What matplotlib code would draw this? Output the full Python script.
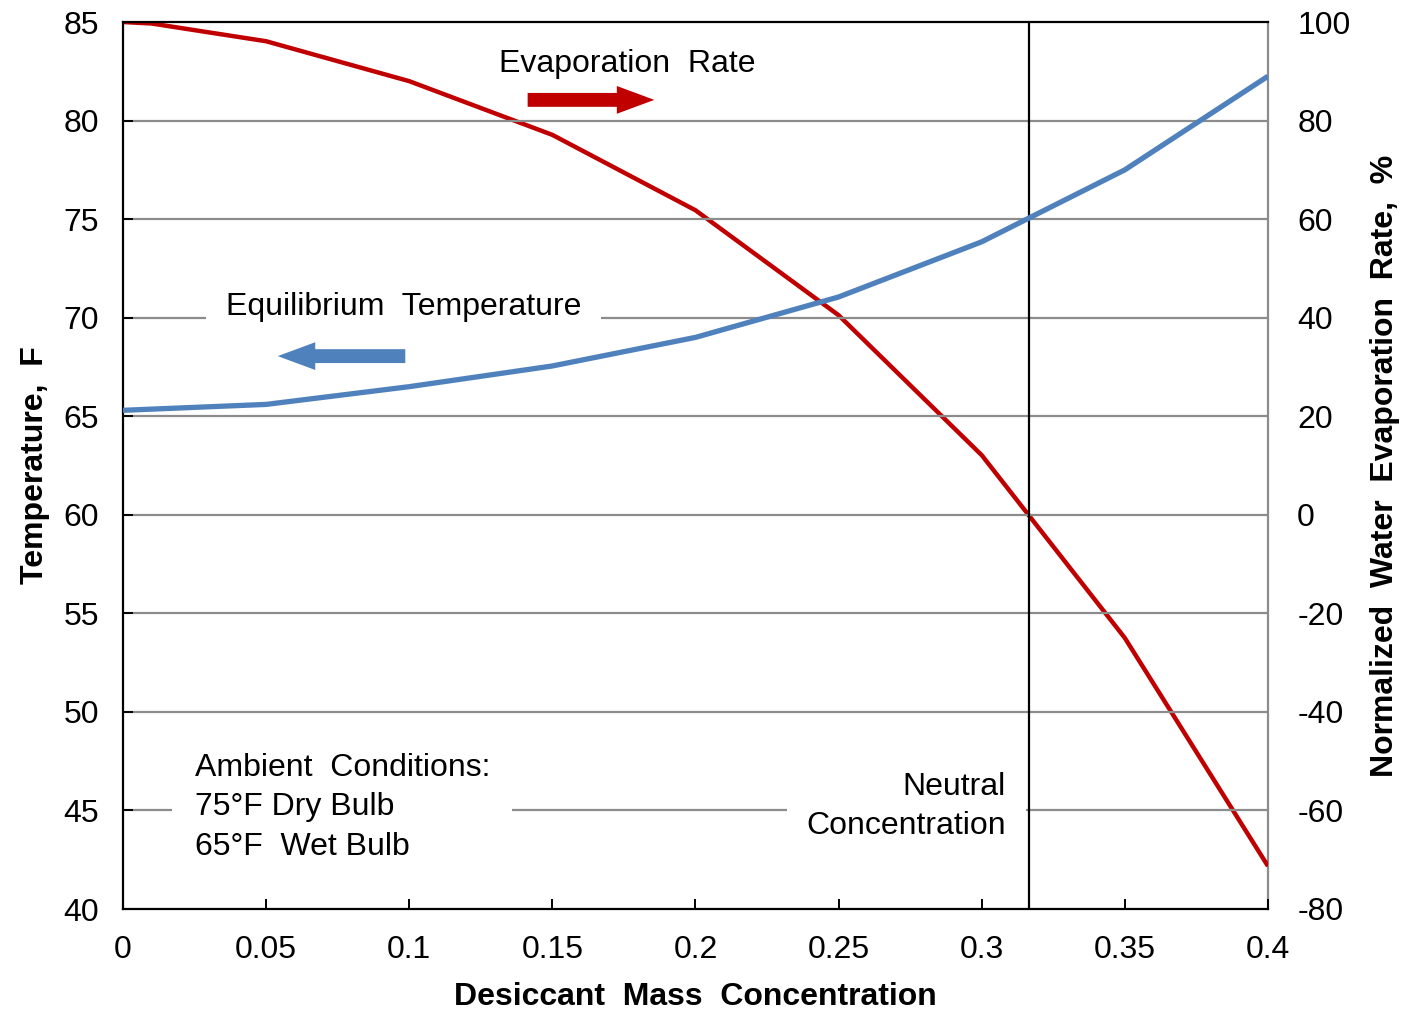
import matplotlib.pyplot as plt
import numpy as np

plt.rcParams['font.family'] = ['Liberation Sans', 'DejaVu Sans']
plt.rcParams['axes.unicode_minus'] = False

# data
conc = [0.0, 0.05, 0.1, 0.15, 0.2, 0.25, 0.3, 0.35, 0.4]
temp_eq = [65.3, 65.6, 66.5, 67.55, 69.0, 71.05, 73.85, 77.5, 82.25]

conc_evap = [0.0, 0.01, 0.05, 0.1, 0.15, 0.2, 0.25, 0.3, 0.35, 0.4]
evap_rate = [100.0, 99.7, 96.1, 88.0, 77.1, 61.8, 40.5, 12.1, -25.0, -71.3]

neutral_conc = 0.3165

x_ticks = [0, 0.05, 0.1, 0.15, 0.2, 0.25, 0.3, 0.35, 0.4]
x_tick_labels = ['0', '0.05', '0.1', '0.15', '0.2', '0.25', '0.3', '0.35', '0.4']
temp_ticks = list(range(40, 86, 5))
evap_ticks = list(range(-80, 101, 20))

red = '#C00000'
blue = '#4F81BD'
grid_gray = '#8C8C8C'
fs = 23

fig = plt.figure(figsize=(14.02, 10.10), dpi=100)
ax = fig.add_axes([0.0877, 0.1, 0.8167, 0.8782])
ax2 = ax.twinx()

ax.set_xlim(0, 0.4)
ax.set_ylim(40, 85)
ax2.set_ylim(-80, 100)

ax.set_yticks(temp_ticks)
ax.set_xticks(x_ticks)
ax.set_xticklabels(x_tick_labels)
ax2.set_yticks(evap_ticks)

# grid lines
for t in temp_ticks[1:-1]:
    ax.axhline(t, color=grid_gray, lw=1.6, zorder=0)

ax.plot(conc, temp_eq, color=blue, lw=3.8, zorder=3, solid_capstyle='butt')
ax2.plot(conc_evap, evap_rate, color=red, lw=3.2, zorder=3, solid_capstyle='butt')
ax.axvline(neutral_conc, color='black', lw=1.6, zorder=2)

ax.set_zorder(ax2.get_zorder() + 1)
ax.patch.set_visible(False)

ax.tick_params(axis='x', direction='in', length=7, width=1.4, labelsize=fs, pad=19)
ax.tick_params(axis='y', direction='in', length=7, width=1.4, labelsize=fs, pad=17)
ax2.tick_params(axis='y', length=0, labelsize=fs, pad=21)

for s in ['left', 'bottom', 'top']:
    ax.spines[s].set_linewidth(1.6)
    ax.spines[s].set_color('black')
ax.spines['right'].set_visible(False)
ax2.spines['right'].set_color(grid_gray)
ax2.spines['right'].set_linewidth(1.6)
for s in ['left', 'bottom', 'top']:
    ax2.spines[s].set_visible(False)

ax.set_xlabel('Desiccant  Mass  Concentration', fontsize=fs, fontweight='bold', labelpad=12)
ax.set_ylabel('Temperature,  F', fontsize=fs, fontweight='bold', labelpad=10)
ax2.set_ylabel('Normalized  Water  Evaporation  Rate,  %', fontsize=fs,
               fontweight='bold', labelpad=14)

ax.text(0.176, 82.85, 'Evaporation  Rate', fontsize=fs, ha='center', va='center', zorder=4)
ax.text(0.098, 70.55, 'Equilibrium  Temperature', fontsize=fs, ha='center', va='center',
        bbox=dict(facecolor='white', edgecolor='none', pad=14), zorder=4)
ax.text(0.025, 45.15, 'Ambient  Conditions:\n75°F Dry Bulb\n65°F  Wet Bulb', fontsize=fs,
        ha='left', va='center', linespacing=1.42,
        bbox=dict(facecolor='white', edgecolor='none', pad=16), zorder=4)
ax.text(0.3085, 45.2, 'Neutral\nConcentration', fontsize=fs, ha='right', va='center',
        linespacing=1.42, bbox=dict(facecolor='white', edgecolor='none', pad=14), zorder=4)

# direction arrows
ax.annotate('', xy=(0.1866, 81.05), xytext=(0.1404, 81.05),
            arrowprops=dict(arrowstyle='simple,head_width=1.0,head_length=1.35,tail_width=0.5',
                            mutation_scale=20, color=red, lw=0), zorder=4)
ax.annotate('', xy=(0.0531, 68.05), xytext=(0.0996, 68.05),
            arrowprops=dict(arrowstyle='simple,head_width=1.0,head_length=1.35,tail_width=0.5',
                            mutation_scale=20, color=blue, lw=0), zorder=4)

fig.savefig('out.png', dpi=100)
